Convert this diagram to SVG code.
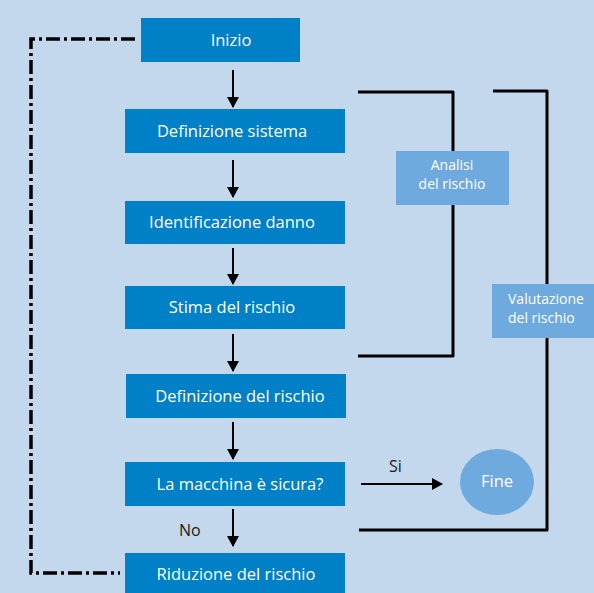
<svg xmlns="http://www.w3.org/2000/svg" width="594" height="593" viewBox="0 0 594 593">
<style>
.box{fill:#0080c6}
.lbox{fill:#6eaadd}
.t{font-family:"Open Sans","Liberation Sans",sans-serif;font-size:16.5px;fill:#ffffff;text-anchor:middle}
.s{font-family:"Open Sans","Liberation Sans",sans-serif;font-size:14px;fill:#ffffff}
.k{font-family:"Open Sans","Liberation Sans",sans-serif;font-size:16px;fill:#1a1a1a}
.a{stroke:#000;stroke-width:2;fill:none;marker-end:url(#ah)}
.br{stroke:#000;stroke-width:3;fill:none;stroke-linejoin:round}
.dd{stroke:#000;stroke-width:3.5;fill:none;stroke-dasharray:14 4 3 4}
</style>
<defs>
<marker id="ah" markerWidth="12" markerHeight="12" refX="10" refY="6" orient="auto" markerUnits="userSpaceOnUse">
<path d="M0,0 L11,6 L0,12 z" fill="#000"/>
</marker>
</defs>
<rect width="594" height="593" fill="#c3d8ec"/>
<g id="connectors">
<path class="dd" d="M135,39 H31 V573 H120"/>
<path class="a" d="M233,70 V107"/>
<path class="a" d="M233,160 V197"/>
<path class="a" d="M233,248 V284"/>
<path class="a" d="M233,334 V371"/>
<path class="a" d="M233,422 V459"/>
<path class="a" d="M233,509 V546"/>
<path class="a" stroke-width="3" d="M361,484 H442"/>
<path class="br" d="M358,92 H453 V356 H358"/>
<path class="br" stroke-width="2.5" d="M493,91 H547 V530 H359"/>
</g>
<g id="inizio"><rect class="box" x="141" y="18" width="159" height="44"/><text class="t" x="231" y="46">Inizio</text></g>
<g id="definizione-sistema"><rect class="box" x="125" y="109" width="220" height="44"/><text class="t" x="232" y="137">Definizione sistema</text></g>
<g id="identificazione-danno"><rect class="box" x="125" y="201" width="220" height="43"/><text class="t" x="232" y="228">Identificazione danno</text></g>
<g id="stima-rischio"><rect class="box" x="125" y="286" width="220" height="43"/><text class="t" x="232" y="313">Stima del rischio</text></g>
<g id="definizione-rischio"><rect class="box" x="126" y="374" width="220" height="44"/><text class="t" x="240" y="402">Definizione del rischio</text></g>
<g id="macchina-sicura"><rect class="box" x="125" y="462" width="220" height="44"/><text class="t" x="240" y="490">La macchina è sicura?</text></g>
<g id="riduzione-rischio"><rect class="box" x="125" y="553" width="220" height="42"/><text class="t" x="236" y="580">Riduzione del rischio</text></g>
<g id="fine"><ellipse cx="497" cy="482" rx="37" ry="33" fill="#6eaadd"/><text class="t" x="497" y="487">Fine</text></g>
<g id="analisi"><rect class="lbox" x="396" y="151" width="113" height="54"/><text class="s" x="452" y="170" text-anchor="middle">Analisi</text><text class="s" x="452" y="189" text-anchor="middle">del rischio</text></g>
<g id="valutazione"><rect class="lbox" x="492" y="284" width="102" height="54"/><text class="s" x="508" y="304">Valutazione</text><text class="s" x="508" y="323">del rischio</text></g>
<g id="labels"><text class="k" x="389" y="472">Si</text><text class="k" x="179" y="536">No</text></g>
</svg>
